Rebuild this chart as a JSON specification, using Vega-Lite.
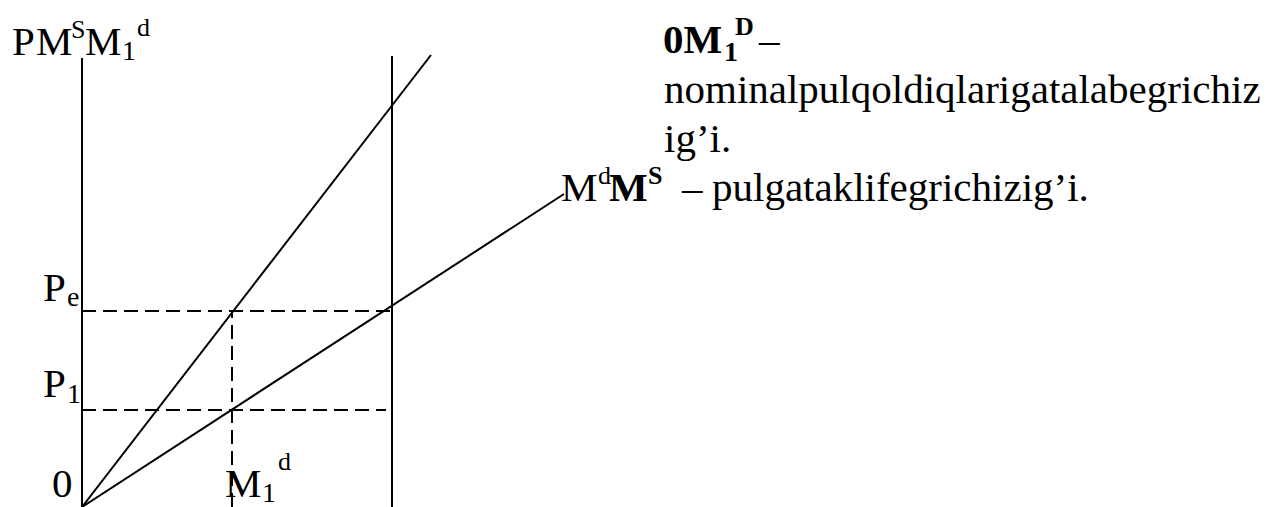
{
  "$schema": "https://vega.github.io/schema/vega-lite/v6.json",
  "width": 1273,
  "height": 507,
  "autosize": "none",
  "padding": 0,
  "background": "white",
  "config": {"view": {"stroke": null}},
  "datasets": {
    "segments": [
      {"x": 82, "y": 0, "x2": 82, "y2": 449, "kind": "axis"},
      {"x": 392, "y": 0, "x2": 392, "y2": 451, "kind": "supply"},
      {"x": 82, "y": 0, "x2": 431, "y2": 452, "kind": "demand1"},
      {"x": 82, "y": 0, "x2": 564, "y2": 313, "kind": "demand"},
      {"x": 82, "y": 196, "x2": 392, "y2": 196, "kind": "guide"},
      {"x": 82, "y": 97, "x2": 386, "y2": 97, "kind": "guide"},
      {"x": 232, "y": 0, "x2": 232, "y2": 196, "kind": "guide"}
    ],
    "labels": [
      {"t": "P", "x": 12, "y": 452, "part": "base", "strong": false},
      {"t": "M", "x": 36, "y": 452, "part": "base", "strong": false},
      {"t": "S", "x": 71, "y": 469, "part": "sup", "strong": false},
      {"t": "M", "x": 85, "y": 452, "part": "base", "strong": false},
      {"t": "1", "x": 122, "y": 447, "part": "sub", "strong": false},
      {"t": "d", "x": 137, "y": 471, "part": "sup", "strong": false},
      {"t": "P", "x": 43, "y": 206, "part": "base", "strong": false},
      {"t": "e", "x": 67, "y": 201, "part": "sub", "strong": false},
      {"t": "P", "x": 43, "y": 110, "part": "base", "strong": false},
      {"t": "1", "x": 67, "y": 104, "part": "sub", "strong": false},
      {"t": "0", "x": 52, "y": 10, "part": "base", "strong": false},
      {"t": "M", "x": 225, "y": 10, "part": "base", "strong": false},
      {"t": "1", "x": 262, "y": 5, "part": "sub", "strong": false},
      {"t": "d", "x": 278, "y": 37, "part": "sup", "strong": false},
      {"t": "0M", "x": 663, "y": 454, "part": "base", "strong": true},
      {"t": "1", "x": 724, "y": 446, "part": "sub", "strong": true},
      {"t": "D", "x": 735, "y": 472, "part": "sup", "strong": true},
      {"t": "–", "x": 759, "y": 454, "part": "base", "strong": false},
      {"t": "nominalpulqoldiqlarigatalabegrichiz", "x": 664, "y": 404, "part": "base", "strong": false},
      {"t": "ig’i.", "x": 664, "y": 355, "part": "base", "strong": false},
      {"t": "M", "x": 561, "y": 306, "part": "base", "strong": false},
      {"t": "d", "x": 598, "y": 323, "part": "sup", "strong": false},
      {"t": "M", "x": 609, "y": 306, "part": "base", "strong": true},
      {"t": "S", "x": 648, "y": 323, "part": "sup", "strong": true},
      {"t": "–", "x": 682, "y": 306, "part": "base", "strong": false},
      {"t": "pulgataklifegrichizig’i.", "x": 712, "y": 306, "part": "base", "strong": false}
    ]
  },
  "resolve": {"scale": {"x": "shared", "y": "shared"}},
  "layer": [
    {
      "data": {"name": "segments"},
      "transform": [{"filter": "datum.kind !== 'guide'"}],
      "mark": {"type": "rule", "color": "black", "strokeWidth": 2},
      "encoding": {
        "x": {"field": "x", "type": "quantitative", "scale": {"domain": [0, 1273], "nice": false, "zero": false}, "axis": null},
        "y": {"field": "y", "type": "quantitative", "scale": {"domain": [0, 507], "nice": false, "zero": false}, "axis": null},
        "x2": {"field": "x2"},
        "y2": {"field": "y2"}
      }
    },
    {
      "data": {"name": "segments"},
      "transform": [{"filter": "datum.kind === 'guide'"}],
      "mark": {"type": "rule", "color": "black", "strokeWidth": 2, "strokeDash": [14, 7]},
      "encoding": {
        "x": {"field": "x", "type": "quantitative", "scale": {"domain": [0, 1273], "nice": false, "zero": false}, "axis": null},
        "y": {"field": "y", "type": "quantitative", "scale": {"domain": [0, 507], "nice": false, "zero": false}, "axis": null},
        "x2": {"field": "x2"},
        "y2": {"field": "y2"}
      }
    },
    {
      "data": {"name": "labels"},
      "transform": [{"filter": "datum.part === 'base' && !datum.strong"}],
      "mark": {"type": "text", "font": "Liberation Serif", "fontSize": 41, "align": "left", "baseline": "alphabetic", "color": "black"},
      "encoding": {
        "x": {"field": "x", "type": "quantitative"},
        "y": {"field": "y", "type": "quantitative"},
        "text": {"field": "t"}
      }
    },
    {
      "data": {"name": "labels"},
      "transform": [{"filter": "datum.part === 'base' && datum.strong"}],
      "mark": {"type": "text", "font": "Liberation Serif", "fontSize": 41, "fontWeight": "bold", "align": "left", "baseline": "alphabetic", "color": "black"},
      "encoding": {
        "x": {"field": "x", "type": "quantitative"},
        "y": {"field": "y", "type": "quantitative"},
        "text": {"field": "t"}
      }
    },
    {
      "data": {"name": "labels"},
      "transform": [{"filter": "datum.part === 'sub' && !datum.strong"}],
      "mark": {"type": "text", "font": "Liberation Serif", "fontSize": 28, "align": "left", "baseline": "alphabetic", "color": "black"},
      "encoding": {
        "x": {"field": "x", "type": "quantitative"},
        "y": {"field": "y", "type": "quantitative"},
        "text": {"field": "t"}
      }
    },
    {
      "data": {"name": "labels"},
      "transform": [{"filter": "datum.part === 'sub' && datum.strong"}],
      "mark": {"type": "text", "font": "Liberation Serif", "fontSize": 28, "fontWeight": "bold", "align": "left", "baseline": "alphabetic", "color": "black"},
      "encoding": {
        "x": {"field": "x", "type": "quantitative"},
        "y": {"field": "y", "type": "quantitative"},
        "text": {"field": "t"}
      }
    },
    {
      "data": {"name": "labels"},
      "transform": [{"filter": "datum.part === 'sup' && !datum.strong"}],
      "mark": {"type": "text", "font": "Liberation Serif", "fontSize": 26, "align": "left", "baseline": "alphabetic", "color": "black"},
      "encoding": {
        "x": {"field": "x", "type": "quantitative"},
        "y": {"field": "y", "type": "quantitative"},
        "text": {"field": "t"}
      }
    },
    {
      "data": {"name": "labels"},
      "transform": [{"filter": "datum.part === 'sup' && datum.strong"}],
      "mark": {"type": "text", "font": "Liberation Serif", "fontSize": 26, "fontWeight": "bold", "align": "left", "baseline": "alphabetic", "color": "black"},
      "encoding": {
        "x": {"field": "x", "type": "quantitative"},
        "y": {"field": "y", "type": "quantitative"},
        "text": {"field": "t"}
      }
    }
  ]
}
